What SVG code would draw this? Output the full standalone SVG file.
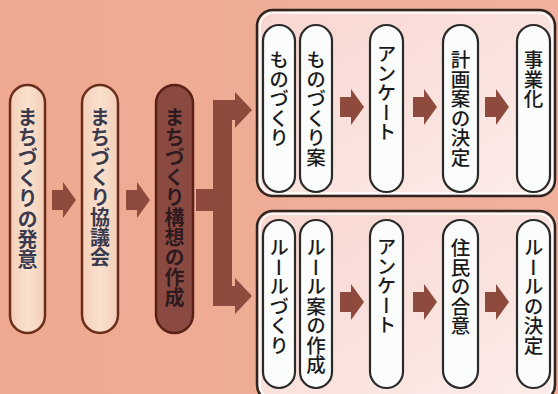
<svg xmlns="http://www.w3.org/2000/svg" width="558" height="394" viewBox="0 0 558 394">
<defs>
<linearGradient id="bg" x1="0" y1="0" x2="1" y2="0">
<stop offset="0" stop-color="#eea990"/>
<stop offset="1" stop-color="#f1b09c"/>
</linearGradient>
<linearGradient id="boxfill" x1="0" y1="0" x2="1" y2="1">
<stop offset="0" stop-color="#f8d6d0"/>
<stop offset="1" stop-color="#fcece9"/>
</linearGradient>
<linearGradient id="cream" x1="0" y1="0" x2="1" y2="0">
<stop offset="0" stop-color="#f3cdb6"/>
<stop offset="0.5" stop-color="#f9e2cf"/>
<stop offset="1" stop-color="#f3cdb6"/>
</linearGradient>
<path id="arr" d="M0,-10 H11 V-18 L24,0 L11,18 V10 H0 Z"/>
</defs>
<style>
.lp{fill:url(#cream);stroke:#6b2e1c;stroke-width:2.5}
.dp{fill:#8a4a42;stroke:#5a2015;stroke-width:2.5}
.box{fill:url(#boxfill);stroke:#2e2420;stroke-width:2.5}
.boxin{fill:none;stroke:#ffffff;stroke-width:1.5}
.rp{fill:#fbfdfc;stroke:#2a2a2a;stroke-width:2.2}
.vt{font-family:"Noto Sans CJK JP","Noto Sans CJK SC",sans-serif;font-size:19.5px;writing-mode:vertical-rl}
.lt{fill:#3a3a4e;font-weight:bold;font-size:20px}
.dt{fill:#2e1a1e;font-weight:bold;font-size:20px}
.rt{fill:#1a1a1a;font-weight:500}
.ar{fill:#8e4b3d}
</style>
<rect width="558" height="394" fill="url(#bg)"/>

<g id="groups">
<g id="top-group">
<rect class="box" x="257" y="10" width="298" height="186" rx="16"/>
<rect class="boxin" x="260" y="13" width="292" height="180" rx="13"/>
</g>
<g id="bottom-group">
<rect class="box" x="257" y="211" width="298" height="190" rx="16"/>
<rect class="boxin" x="260" y="214" width="292" height="184" rx="13"/>
</g>
</g>

<g id="connectors">
<use href="#arr" class="ar" x="52" y="200"/>
<use href="#arr" class="ar" x="126" y="200"/>
<path class="ar" d="M196,189 H213 V100 H235 V92 L252,110 L235,128 V120 H232 V286 H235 V278 L252,296 L235,314 V306 H213 V211 H196 Z"/>
<use href="#arr" class="ar" x="340" y="107"/>
<use href="#arr" class="ar" x="413" y="107"/>
<use href="#arr" class="ar" x="485" y="107"/>
<use href="#arr" class="ar" x="340" y="302"/>
<use href="#arr" class="ar" x="413" y="302"/>
<use href="#arr" class="ar" x="485" y="302"/>
</g>

<g id="n1"><rect class="lp" x="10" y="85" width="35" height="248" rx="17.5"/><text class="vt lt" x="27.5" y="107" letter-spacing="0.4">まちづくりの発意</text></g>
<g id="n2"><rect class="lp" x="82" y="85" width="36" height="248" rx="18"/><text class="vt lt" x="100" y="107">まちづくり協議会</text></g>
<g id="n3"><rect class="dp" x="156" y="85" width="37" height="248" rx="18.5"/><text class="vt dt" x="174.5" y="107">まちづくり構想の作成</text></g>

<g id="t1"><rect class="rp" x="263" y="25" width="32" height="167" rx="16"/><text class="vt rt" x="279" y="50">ものづくり</text></g>
<g id="t2"><rect class="rp" x="300" y="25" width="32" height="167" rx="16"/><text class="vt rt" x="316" y="50">ものづくり案</text></g>
<g id="t3"><rect class="rp" x="370" y="25" width="33" height="167" rx="16.5"/><text class="vt rt" x="386.5" y="44">アンケート</text></g>
<g id="t4"><rect class="rp" x="443" y="25" width="35" height="167" rx="17.5"/><text class="vt rt" x="460.5" y="50">計画案の決定</text></g>
<g id="t5"><rect class="rp" x="517" y="25" width="33" height="167" rx="16.5"/><text class="vt rt" x="533.5" y="50">事業化</text></g>

<g id="b1"><rect class="rp" x="263" y="220" width="32" height="168" rx="16"/><text class="vt rt" x="279" y="238">ルールづくり</text></g>
<g id="b2"><rect class="rp" x="300" y="220" width="32" height="168" rx="16"/><text class="vt rt" x="316" y="238">ルール案の作成</text></g>
<g id="b3"><rect class="rp" x="370" y="220" width="33" height="168" rx="16.5"/><text class="vt rt" x="386.5" y="237">アンケート</text></g>
<g id="b4"><rect class="rp" x="443" y="220" width="35" height="168" rx="17.5"/><text class="vt rt" x="460.5" y="238">住民の合意</text></g>
<g id="b5"><rect class="rp" x="517" y="220" width="33" height="168" rx="16.5"/><text class="vt rt" x="533.5" y="238">ルールの決定</text></g>
</svg>
